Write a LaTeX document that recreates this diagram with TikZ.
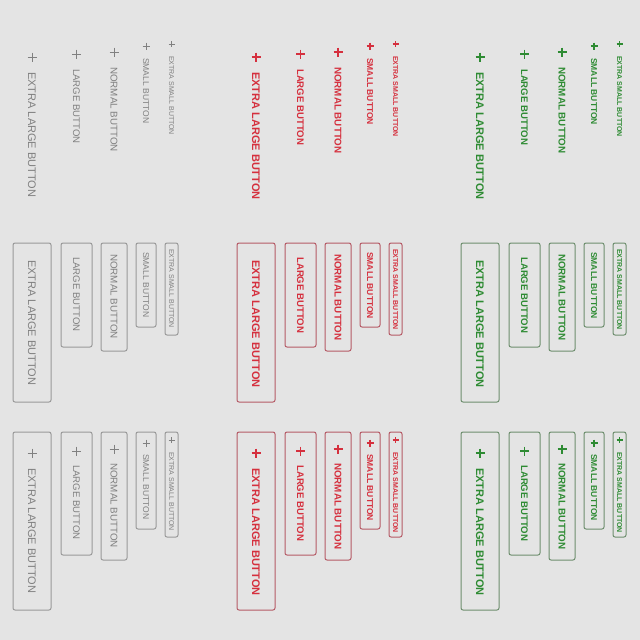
\documentclass[tikz,border=0pt]{standalone}
\usepackage{fontspec}
\setmainfont{Liberation Sans}
\definecolor{bg}{HTML}{E4E4E4}
\definecolor{gtext}{HTML}{808080}
\definecolor{gline}{HTML}{999999}
\definecolor{rtext}{HTML}{D5303E}
\definecolor{rline}{HTML}{B55A66}
\definecolor{ntext}{HTML}{2E8B33}
\definecolor{nline}{HTML}{6E8E6E}
\tikzset{
  btnlabel/.style={rotate=-90, anchor=west, inner sep=0pt},
  btnbox/.style={line width=1pt, rounded corners=2pt},
}
\begin{document}
\begin{tikzpicture}[x=1pt,y=-1pt]
\fill[bg] (0,0) rectangle (640,640);
\useasboundingbox (0,0) rectangle (640,640);
\foreach \off/\txc/\lnc/\wt/\pw/\id in {0/gtext/gline/\mdseries/1/g, 224/rtext/rline/\bfseries/1.5/r, 448/ntext/nline/\bfseries/1.5/n} {
  \foreach \cx/\bl/\br/\fs/\ps/\pa/\ta/\mb/\tb/\bb/\pc/\tcc/\lab/\k in {
    32/13/51/11/4.5/57/72/402/260/610/453/468/EXTRA LARGE BUTTON/xl,
    76.5/61/92/9.6/4.5/54/69/347/257/555/451/465/LARGE BUTTON/l,
    114/101/127/9.8/4.5/52/67/351/254/560/449/463/NORMAL BUTTON/n,
    146/136/156/8.5/3.5/46/58/327/252/529/443/454/SMALL BUTTON/s,
    171.5/165/178/7/3/44/56/335/249/537/440/452/EXTRA SMALL BUTTON/xs} {
    % top row: text buttons with icon
    \draw[\txc, line width=\pw pt] (\off+\cx-\ps, \pa) -- (\off+\cx+\ps, \pa)
         (\off+\cx, \pa-\ps) -- (\off+\cx, \pa+\ps);
    \node[btnlabel, text=\txc, font=\wt\fontsize{\fs}{\fs}\selectfont] (\id-top-\k) at (\off+\cx, \ta) {\lab};
    % middle row: outlined buttons
    \draw[btnbox, \lnc] (\off+\bl, 243) rectangle (\off+\br, \mb);
    \node[btnlabel, text=\txc, font=\wt\fontsize{\fs}{\fs}\selectfont] (\id-mid-\k) at (\off+\cx, \tb) {\lab};
    % bottom row: outlined buttons with icon
    \draw[btnbox, \lnc] (\off+\bl, 432) rectangle (\off+\br, \bb);
    \draw[\txc, line width=\pw pt] (\off+\cx-\ps, \pc) -- (\off+\cx+\ps, \pc)
         (\off+\cx, \pc-\ps) -- (\off+\cx, \pc+\ps);
    \node[btnlabel, text=\txc, font=\wt\fontsize{\fs}{\fs}\selectfont] (\id-bot-\k) at (\off+\cx, \tcc) {\lab};
  }
}
\end{tikzpicture}
\end{document}
